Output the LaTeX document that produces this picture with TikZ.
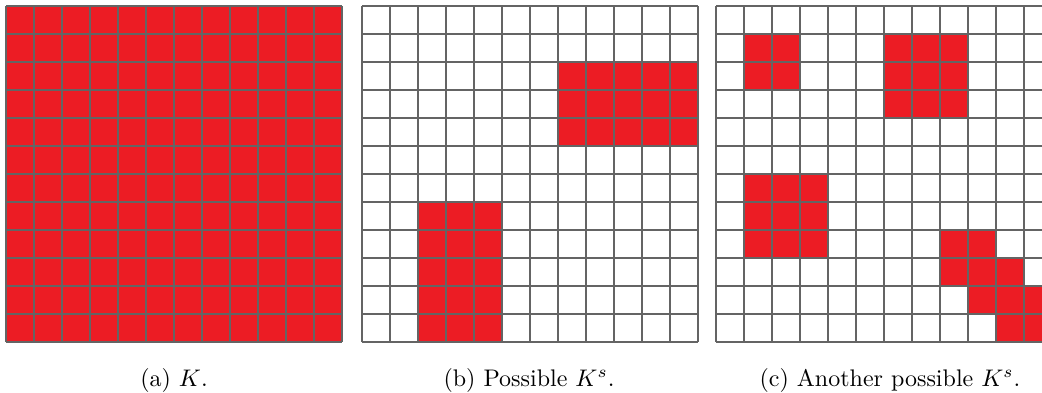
\documentclass[tikz,border=0pt]{standalone}
\definecolor{cellred}{HTML}{EC1C24}
\definecolor{gridgray}{HTML}{646464}
\begin{document}
\begin{tikzpicture}[x=1pt,y=-1pt,
  gridline/.style={draw=gridgray,line width=1.4pt},
  redcell/.style={fill=cellred},
  captext/.style={font=\fontsize{10}{12}\selectfont, anchor=base, inner sep=0pt}]
\useasboundingbox (0,0) rectangle (1042,392);
\clip (0,0) rectangle (1042,392);
% grid (a)
\begin{scope}[shift={(6,6)}]
  \fill[redcell] (0,0) rectangle (336,336);
  \foreach \i in {0,...,12} {
    \draw[gridline] (\i*28,0) -- (\i*28,336);
    \draw[gridline] (0,\i*28) -- (336,\i*28);
  }
\end{scope}
% grid (b)
\begin{scope}[shift={(362,6)}]
  \foreach \c in {7,...,11} \foreach \r in {2,3,4}
    \fill[redcell] (\c*28,\r*28) rectangle ++(28,28);
  \foreach \c in {2,3,4} \foreach \r in {7,...,11}
    \fill[redcell] (\c*28,\r*28) rectangle ++(28,28);
  \foreach \i in {0,...,12} {
    \draw[gridline] (\i*28,0) -- (\i*28,336);
    \draw[gridline] (0,\i*28) -- (336,\i*28);
  }
\end{scope}
% grid (c)
\begin{scope}[shift={(716,6)}]
  \foreach \c/\r in {1/1,2/1,1/2,2/2,
                     6/1,7/1,8/1,6/2,7/2,8/2,6/3,7/3,8/3,
                     1/6,2/6,3/6,1/7,2/7,3/7,1/8,2/8,3/8,
                     8/8,9/8,8/9,9/9,10/9,9/10,10/10,11/10,10/11,11/11}
    \fill[redcell] (\c*28,\r*28) rectangle ++(28,28);
  \foreach \i in {0,...,12} {
    \draw[gridline] (\i*28,0) -- (\i*28,336);
    \draw[gridline] (0,\i*28) -- (336,\i*28);
  }
\end{scope}
% captions
\node[captext] (capa) at (174,386) {\scalebox{2.4}{(a) $K$.}};
\node[captext] (capb) at (529,386) {\scalebox{2.4}{(b) Possible $K^s$.}};
\node[captext] (capc) at (890,386) {\scalebox{2.4}{(c) Another possible $K^s$.}};
\end{tikzpicture}
\end{document}
